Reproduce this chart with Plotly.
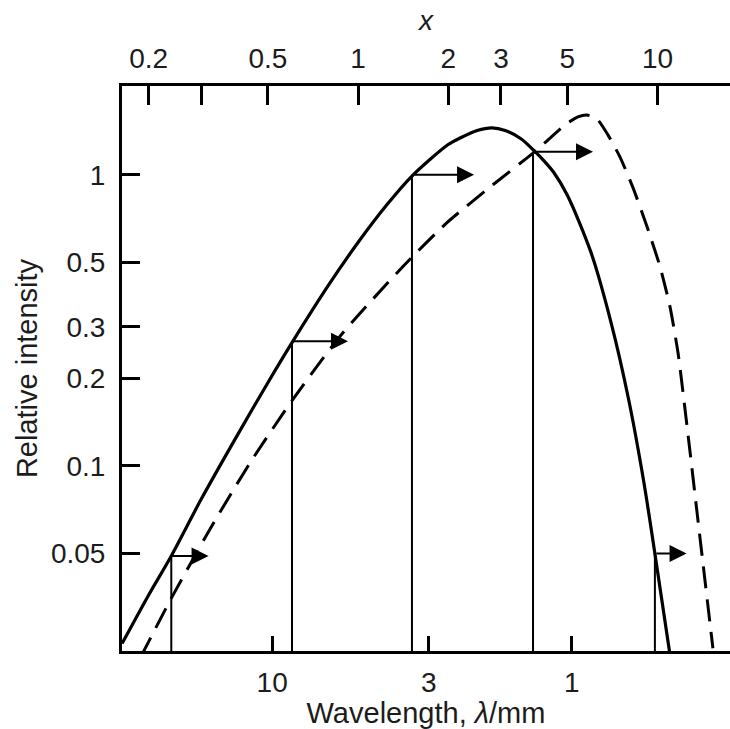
import plotly.graph_objects as go
import numpy as np

# Solid curve: relative intensity against x
x_solid = [0.163, 0.2, 0.238, 0.3, 0.4, 0.5, 0.602, 0.8, 1.0, 1.25, 1.514, 2.0,
           2.2, 2.5, 2.8, 3.1, 3.5, 3.84, 4.2, 4.5, 5.0, 6.0, 7.0, 8.0, 9.0,
           9.8, 11.0]
y_solid = [0.0245, 0.036, 0.049, 0.077, 0.13, 0.193, 0.265, 0.42, 0.585, 0.79,
           0.99, 1.27, 1.34, 1.42, 1.45, 1.42, 1.33, 1.22, 1.11, 1.02, 0.85,
           0.54, 0.31, 0.17, 0.088, 0.05, 0.0225]

# Dashed curve: spectrum after the shift
x_dashed = [0.188, 0.236, 0.321, 0.436, 0.607, 0.871, 1.413, 1.982, 2.822, 3.958,
            4.909, 5.424, 5.812, 6.278, 6.83, 7.49, 8.28, 9.22, 10.19, 11.0,
            11.70, 12.16, 12.83, 13.53, 15.31]
y_dashed = [0.022, 0.0345, 0.0608, 0.1024, 0.1696, 0.2788, 0.4842, 0.6848, 0.924,
            1.218, 1.483, 1.58, 1.605, 1.555, 1.371, 1.152, 0.903, 0.664, 0.484,
            0.353, 0.2457, 0.1793, 0.1125, 0.0701, 0.0236]

# Drop lines from the solid curve and the arrows (shift to higher x)
drop_x = [0.238, 0.602, 1.514, 3.84, 9.8]
drop_y = [0.049, 0.268, 1.0, 1.2, 0.05]
arrow_end_x = [0.317, 0.926, 2.44, 6.09, 12.5]

# Tick labels
x_ticks = [0.2, 0.3, 0.5, 1, 2, 3, 5, 10]
x_ticktext = ["0.2", "", "0.5", "1", "2", "3", "5", "10"]
y_ticks = [0.05, 0.1, 0.2, 0.3, 0.5, 1]
y_ticktext = ["0.05", "0.1", "0.2", "0.3", "0.5", "1"]
lam_ticks = [10, 3, 1]
lam_ticktext = ["10", "3", "1"]
lam_times_x = 5.17  # wavelength (mm) * x

y_floor = 0.0231
x_range = [-0.788, 1.242]
y_range = [np.log10(y_floor), 0.305]
lam_range = [np.log10(lam_times_x) - x_range[0], np.log10(lam_times_x) - x_range[1]]

FONT = "Liberation Sans, Arial, sans-serif"
INK = "#1c1c1c"

fig = go.Figure()

# vertical drop lines
vx, vy = [], []
for xv, yv in zip(drop_x, drop_y):
    vx += [xv, xv, None]
    vy += [y_floor, yv, None]
fig.add_trace(go.Scatter(x=vx, y=vy, mode="lines",
                         line=dict(color="black", width=2), hoverinfo="skip"))

fig.add_trace(go.Scatter(x=x_dashed, y=y_dashed, mode="lines",
                         line=dict(color="black", width=3, dash="22px,11px",
                                   shape="spline", smoothing=0.6),
                         hoverinfo="skip"))
fig.add_trace(go.Scatter(x=x_solid, y=y_solid, mode="lines",
                         line=dict(color="black", width=3.2, shape="spline",
                                   smoothing=0.8),
                         hoverinfo="skip"))

# invisible trace to carry the wavelength axis
fig.add_trace(go.Scatter(x=lam_ticks, y=[1, 1, 1], xaxis="x2", mode="markers",
                         marker=dict(opacity=0), hoverinfo="skip"))

for xs, xe, yv in zip(drop_x, arrow_end_x, drop_y):
    fig.add_annotation(x=np.log10(xe), y=np.log10(yv), ax=np.log10(xs),
                       ay=np.log10(yv), xref="x", yref="y", axref="x", ayref="y",
                       showarrow=True, arrowhead=2, arrowsize=1.7,
                       arrowwidth=2, arrowcolor="black", text="")

axis_common = dict(type="log", showgrid=False, zeroline=False, showline=True,
                   linecolor="black", linewidth=3, ticks="inside",
                   tickcolor="black", tickwidth=2.5,
                   tickfont=dict(family=FONT, size=28, color=INK))

fig.update_layout(
    width=730, height=729,
    margin=dict(l=122, r=0, t=86, b=76),
    paper_bgcolor="white", plot_bgcolor="white",
    showlegend=False,
    xaxis=dict(axis_common, side="top", range=x_range, tickvals=x_ticks,
               ticktext=x_ticktext, ticklen=19, anchor="y",
               ticklabelstandoff=4,
               title=dict(text="<i>x</i>", standoff=4,
                          font=dict(family=FONT, size=28, color=INK))),
    xaxis2=dict(axis_common, side="bottom", overlaying="x", anchor="y",
                range=lam_range, tickvals=lam_ticks, ticktext=lam_ticktext,
                ticklen=15, ticklabelstandoff=4,
                title=dict(text="Wavelength, <i>λ</i>/mm", standoff=11,
                           font=dict(family=FONT, size=29, color=INK))),
    yaxis=dict(axis_common, range=y_range, tickvals=y_ticks,
               ticktext=y_ticktext, ticklen=18, ticklabelstandoff=8,
               title=dict(text="Relative intensity", standoff=5,
                          font=dict(family=FONT, size=29, color=INK))),
)

fig.write_html("out.html", config={"displayModeBar": False},
               post_script="document.body.style.margin='0';"
                           "document.body.style.padding='0';")
